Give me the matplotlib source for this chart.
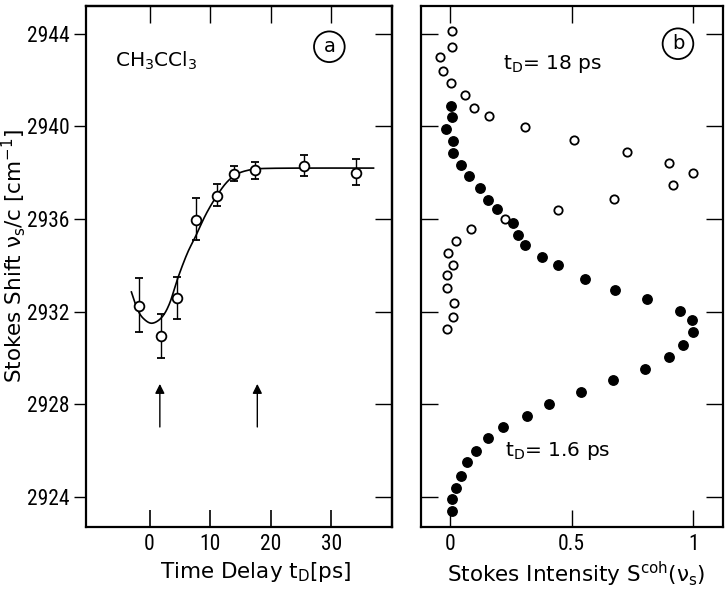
import numpy as np
import matplotlib
matplotlib.use("Agg")
import matplotlib.pyplot as plt
from matplotlib import font_manager
from matplotlib.font_manager import FontProperties

# ---------------- data ----------------
# panel (a): Stokes shift vs time delay
td = [-1.8, 1.9, 4.5, 7.7, 11.1, 13.9, 17.5, 25.5, 34.1]
shift = [2932.25, 2930.95, 2932.6, 2935.95, 2937.0, 2937.95, 2938.1, 2938.3, 2938.0]
err_lo = [1.15, 0.95, 0.9, 0.85, 0.45, 0.3, 0.35, 0.45, 0.55]
err_hi = [1.2, 0.95, 0.9, 0.95, 0.5, 0.35, 0.35, 0.45, 0.6]

# fitted curve
curve_x = [-3.0, -2.0, -1.0, 0.4, 2.0, 3.3, 4.6, 6.2, 7.6, 9.3, 11.1, 12.8, 14.5, 16.5, 18.5, 25.0, 37.0]
curve_y = [2932.85, 2932.1, 2931.7, 2931.5, 2931.75, 2932.35, 2933.4, 2934.5, 2935.25, 2936.2, 2937.0, 2937.6, 2937.95, 2938.12, 2938.18, 2938.2, 2938.2]

arrow_x = [1.7, 17.8]
arrow_y0 = 2926.9
arrow_y1 = 2929.0

# panel (b): spectra
open_int = [0.01, 0.01, -0.04, -0.03, 0.004, 0.064, 0.099, 0.162, 0.31, 0.51, 0.726, 0.90,
            0.998, 0.918, 0.674, 0.444, 0.226, 0.088, 0.023, -0.007, 0.014, -0.011, -0.011,
            0.016, 0.014, -0.011]
open_nu = [2944.1, 2943.42, 2943.0, 2942.4, 2941.87, 2941.37, 2940.79, 2940.46, 2939.97, 2939.42,
           2938.89, 2938.43, 2937.97, 2937.49, 2936.86, 2936.37, 2936.0, 2935.56, 2935.06,
           2934.55, 2934.0, 2933.59, 2933.0, 2932.37, 2931.79, 2931.24]

fill_int = [0.004, 0.007, -0.016, 0.014, 0.014, 0.044, 0.079, 0.123, 0.155, 0.194, 0.26, 0.28,
            0.307, 0.378, 0.444, 0.556, 0.68, 0.81, 0.945, 0.995, 1.0, 0.959, 0.899, 0.801,
            0.669, 0.54, 0.408, 0.315, 0.219, 0.156, 0.107, 0.069, 0.045, 0.025, 0.007, 0.007]
fill_nu = [2940.86, 2940.4, 2939.88, 2939.39, 2938.87, 2938.35, 2937.84, 2937.33, 2936.83,
           2936.43, 2935.85, 2935.32, 2934.89, 2934.38, 2934.0, 2933.43, 2932.94, 2932.55,
           2932.03, 2931.65, 2931.11, 2930.57, 2930.06, 2929.52, 2929.05, 2928.52, 2928.02,
           2927.51, 2927.04, 2926.55, 2926.0, 2925.52, 2924.92, 2924.39, 2923.93, 2923.41]

yticks = [2924, 2928, 2932, 2936, 2940, 2944]
xticks_a = [0, 10, 20, 30]
xticks_b = [0, 0.5, 1]
xticklabels_b = ["0", "0.5", "1"]

# ---------------- style ----------------
plt.rcParams['font.family'] = ['DejaVu Sans']
plt.rcParams['mathtext.fontset'] = 'dejavusans'

# pick a condensed face for tick numbers if one is installed
tick_fp = None
names = {f.name for f in font_manager.fontManager.ttflist}
for nm in ["Liberation Sans Narrow", "DejaVu Sans Condensed", "Roboto Condensed"]:
    if nm in names:
        tick_fp = FontProperties(family=nm, size=15.5)
        break
if tick_fp is None:
    cands = [f for f in font_manager.fontManager.ttflist
             if f.stretch in ('condensed', 'semi-condensed') and f.style == 'normal'
             and f.weight in (400, 'normal', 'regular')]
    cands.sort(key=lambda f: (0 if 'DejaVu' in f.name else 1 if 'Noto Sans' == f.name else 2,
                              0 if f.stretch == 'condensed' else 1, f.fname))
    if cands:
        tick_fp = FontProperties(fname=cands[0].fname, size=15.5)
    else:
        tick_fp = FontProperties(family='DejaVu Sans', size=13)


def catmull_rom(xs, ys, n=20):
    pts = np.column_stack([xs, ys]).astype(float)
    p = np.vstack([pts[0] * 2 - pts[1], pts, pts[-1] * 2 - pts[-2]])
    out = []
    t = np.linspace(0, 1, n, endpoint=False)[:, None]
    for i in range(1, len(p) - 2):
        p0, p1, p2, p3 = p[i - 1], p[i], p[i + 1], p[i + 2]
        seg = 0.5 * ((2 * p1) + (-p0 + p2) * t + (2 * p0 - 5 * p1 + 4 * p2 - p3) * t ** 2
                     + (-p0 + 3 * p1 - 3 * p2 + p3) * t ** 3)
        out.append(seg)
    out.append(pts[-1][None, :])
    out = np.vstack(out)
    return out[:, 0], out[:, 1]


W, H = 728, 592
fig = plt.figure(figsize=(W / 100, H / 100), dpi=100)
ax1 = fig.add_axes([86 / W, 1 - 527 / H, (391.7 - 86) / W, (527 - 6) / H])
ax2 = fig.add_axes([420.7 / W, 1 - 527 / H, (723 - 420.7) / W, (527 - 6) / H])

for ax in (ax1, ax2):
    for s in ax.spines.values():
        s.set_linewidth(1.6)
    ax.set_ylim(2922.7, 2945.2)
    ax.set_yticks(yticks)

# ---- panel a ----
ax1.set_xlim(-10.5, 40.0)
ax1.set_xticks(xticks_a)
ax1.tick_params(axis='x', direction='in', length=12, width=1.2, pad=5)
ax1.tick_params(axis='y', direction='out', length=9, width=1.0, pad=3)
for lab in ax1.get_xticklabels() + ax1.get_yticklabels():
    lab.set_fontproperties(tick_fp)
secx = ax1.secondary_xaxis('top')
secx.set_xticks(xticks_a)
secx.tick_params(direction='in', length=12, width=1.0, labeltop=False)
secy = ax1.secondary_yaxis('right')
secy.set_yticks(yticks)
secy.tick_params(direction='in', length=12, width=1.0, labelright=False)
for s in list(secx.spines.values()) + list(secy.spines.values()):
    s.set_linewidth(1.6)

cx, cy = catmull_rom(curve_x, curve_y)
ax1.plot(cx, cy, color='black', lw=1.2, zorder=2)
ax1.errorbar(td, shift, yerr=[err_lo, err_hi], fmt='o', ms=7, mfc='white', mec='black',
             mew=1.3, ecolor='black', elinewidth=1.0, capsize=3, capthick=1.0, zorder=3)
for x in arrow_x:
    ax1.annotate('', xy=(x, arrow_y1), xytext=(x, arrow_y0),
                 arrowprops=dict(arrowstyle='-|>', color='black', lw=1.0, mutation_scale=14))

ax1.text(-5.7, 2942.85, r'CH$_\mathregular{3}$CCl$_\mathregular{3}$', fontsize=14.5, ha='left',
         va='center')
ax1.text(29.7, 2943.44, 'a', fontsize=14, ha='center', va='center',
         bbox=dict(boxstyle='circle,pad=0.3', fc='white', ec='black', lw=1.3))
ax1.set_xlabel(r'Time Delay t$_\mathregular{D}$[ps]', fontsize=15.5)
ax1.xaxis.set_label_coords(0.555, -0.063, transform=ax1.transAxes)
ax1.xaxis.label.set_va('top')
ax1.set_ylabel(r'Stokes Shift $\mathregular{\nu_s}$/c [cm$^{\mathregular{-1}}$]', fontsize=15.5)
ax1.yaxis.set_label_coords(-0.19, 0.52)

# ---- panel b ----
ax2.set_xlim(-0.12, 1.122)
ax2.set_xticks(xticks_b)
ax2.set_xticklabels(xticklabels_b)
ax2.tick_params(axis='both', direction='in', length=12, width=1.0, top=True, right=True,
                labelleft=False, pad=5)
for lab in ax2.get_xticklabels():
    lab.set_fontproperties(tick_fp)
ax2.plot(open_int, open_nu, 'o', ms=6, mfc='white', mec='black', mew=1.3, ls='none')
ax2.plot(fill_int, fill_nu, 'o', ms=6.8, mfc='black', mec='black', ls='none')
ax2.text(0.218, 2942.5, r't$_\mathregular{D}$= 18 ps', fontsize=14.5, ha='left', va='baseline')
ax2.text(0.226, 2925.75, r't$_\mathregular{D}$= 1.6 ps', fontsize=14.5, ha='left', va='baseline')
ax2.text(0.937, 2943.57, 'b', fontsize=14, ha='center', va='center',
         bbox=dict(boxstyle='circle,pad=0.3', fc='white', ec='black', lw=1.3))
ax2.set_xlabel(r'Stokes Intensity S$^{\mathregular{coh}}$($\mathregular{\nu_s}$)', fontsize=15.5)
ax2.xaxis.set_label_coords(0.515, -0.063, transform=ax2.transAxes)
ax2.xaxis.label.set_va('top')

fig.savefig('out.png', dpi=100)
